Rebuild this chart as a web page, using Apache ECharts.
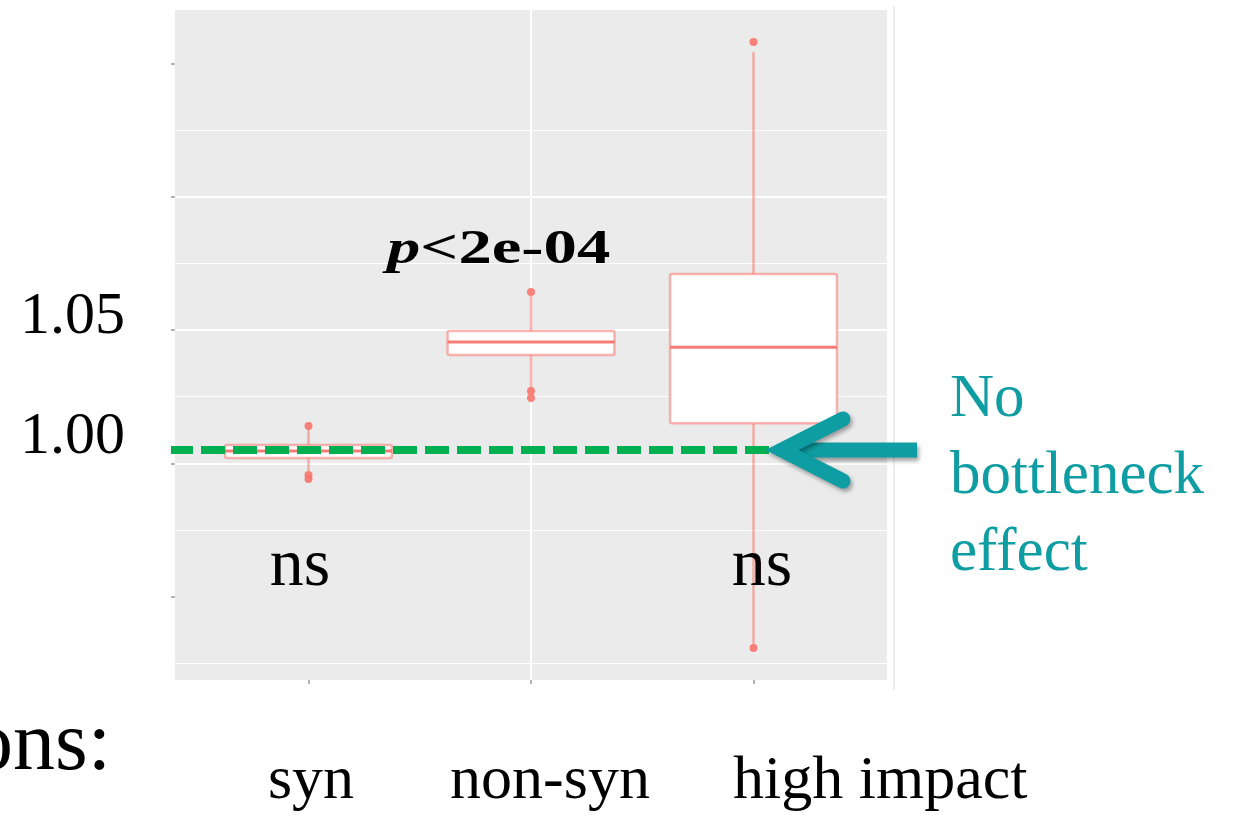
<!DOCTYPE html>
<html>
<head>
<meta charset="utf-8">
<title>Bottleneck ratio by mutation class</title>
<script src="https://cdn.jsdelivr.net/npm/echarts@6/dist/echarts.min.js"></script>
<style>
  html, body { margin: 0; padding: 0; background: #ffffff; }
  #chart { width: 1236px; height: 816px; }
</style>
</head>
<body>
<div id="chart"></div>
<script>
// ---- data -------------------------------------------------------------
const categories   = ['syn', 'non-syn', 'high impact'];
const whiskerLow   = [0.9913, 1.0254, 0.9188];
const quartile1    = [0.9967, 1.0396, 1.0111];
const medians      = [0.9996, 1.0450, 1.0428];
const quartile3    = [1.0021, 1.0496, 1.0733];
const whiskerHigh  = [1.0092, 1.0642, 1.1658];
// [category index, value]
const outliers = [
  [0, 1.0100], [0, 0.9896], [0, 0.9879],
  [1, 1.0658], [1, 1.0246], [1, 1.0217],
  [2, 1.1700], [2, 0.9175]
];
const yTickValues  = [1.00, 1.05];
const refLevel     = 1.00;
const pValueText   = ['p', '<2e-04'];
const groupTests   = ['ns', '', 'ns'];
const noteLines    = ['No', 'bottleneck', 'effect'];
const rowLabel     = 'ons:';

// ---- style ------------------------------------------------------------
const SERIF = "'Liberation Serif', 'DejaVu Serif', serif";
const BOX_COLOR = 'rgba(248,118,109,0.55)';
const MED_COLOR = 'rgba(244,110,102,0.9)';
const TEAL = '#0E9DA2';
const BOX_WIDTH = 0.75;

const chart = echarts.init(document.getElementById('chart'), null, { renderer: 'canvas' });

const boxData = categories.map((c, i) => [
  i + 1, whiskerLow[i], quartile1[i], medians[i], quartile3[i], whiskerHigh[i]
]);
const outlierData = outliers.map(([i, v]) => [i + 1, v]);

function renderBox(params, api) {
  const x = api.value(0);
  const lo = api.coord([x, api.value(1)]);
  const q1 = api.coord([x, api.value(2)]);
  const md = api.coord([x, api.value(3)]);
  const q3 = api.coord([x, api.value(4)]);
  const hi = api.coord([x, api.value(5)]);
  const half = api.size([BOX_WIDTH, 0])[0] / 2;
  const cx = q1[0];
  const whisker = { stroke: BOX_COLOR, lineWidth: 2.5 };
  return {
    type: 'group',
    children: [
      { type: 'line', shape: { x1: cx, y1: hi[1], x2: cx, y2: q3[1] }, style: whisker },
      { type: 'line', shape: { x1: cx, y1: q1[1], x2: cx, y2: lo[1] }, style: whisker },
      {
        type: 'rect',
        shape: { x: cx - half, y: q3[1], width: half * 2, height: q1[1] - q3[1], r: 2 },
        style: { fill: '#ffffff', stroke: BOX_COLOR, lineWidth: 2.5 }
      },
      {
        type: 'line',
        shape: { x1: cx - half, y1: md[1], x2: cx + half, y2: md[1] },
        style: { stroke: MED_COLOR, lineWidth: 3 }
      }
    ]
  };
}

const lineStart = 0.373;
const lineEnd = 3.119;

const option = {
  animation: false,
  backgroundColor: '#ffffff',
  grid: {
    left: 175, right: 349, top: 10, bottom: 136,
    show: true, backgroundColor: '#EBEBEB', borderWidth: 0
  },
  xAxis: {
    type: 'value', min: 0.4, max: 3.6, minInterval: 1, maxInterval: 1,
    axisLine: { show: false },
    axisTick: { show: true, length: 4, customValues: [1, 2, 3],
      lineStyle: { color: '#9a9a9a', width: 1.5 } },
    axisLabel: { show: false },
    splitLine: { show: true, showMinLine: false, showMaxLine: false,
      lineStyle: { color: '#ffffff', width: 2 } }
  },
  yAxis: [
    {
      // value scale used by the boxes and the 1.00 reference line
      type: 'value', min: 0.904167, max: 1.183333,
      minInterval: 0.05, maxInterval: 0.05,
      axisLine: { show: false },
      axisTick: { show: false },
      splitLine: { show: false },
      axisLabel: {
        show: true, margin: 50, verticalAlign: 'bottom', lineHeight: 26,
        fontFamily: SERIF, fontSize: 60, color: '#000000',
        formatter: v => {
          const hit = yTickValues.find(t => Math.abs(t - v) < 1e-6);
          return hit === undefined ? '' : hit.toFixed(2);
        }
      }
    },
    {
      // helper scale carrying the panel's major / minor grid lines
      type: 'value', min: 0.9187, max: 1.1701,
      minInterval: 0.05, maxInterval: 0.05, position: 'left',
      axisLine: { show: false },
      axisLabel: { show: false },
      axisTick: { show: true, length: 4, customValues: [0.95, 1.0, 1.05, 1.1, 1.15],
        lineStyle: { color: '#9a9a9a', width: 1.5 } },
      splitLine: { show: true, showMinLine: false, showMaxLine: false,
        lineStyle: { color: '#ffffff', width: 2 } },
      minorTick: { show: false, splitNumber: 2 },
      minorSplitLine: { show: true, lineStyle: { color: '#ffffff', width: 1.2 } }
    }
  ],
  series: [
    {
      type: 'custom', name: 'box', xAxisIndex: 0, yAxisIndex: 0,
      renderItem: renderBox, data: boxData,
      encode: { x: 0, y: [1, 2, 3, 4, 5] }, z: 2, silent: true
    },
    {
      type: 'scatter', name: 'outliers', xAxisIndex: 0, yAxisIndex: 0,
      data: outlierData, symbolSize: 8,
      itemStyle: { color: '#F8766D', opacity: 0.9 }, z: 3, silent: true
    },
    {
      type: 'line', name: 'reference', xAxisIndex: 0, yAxisIndex: 0,
      data: [[lineStart, refLevel], [lineEnd, refLevel]],
      symbol: 'none', clip: false, z: 4, silent: true,
      lineStyle: { color: '#00B050', width: 8, type: [24, 8] }
    }
  ]
};

chart.setOption(option);

// ---- annotations ------------------------------------------------------
const tip = chart.convertToPixel({ xAxisIndex: 0, yAxisIndex: 0 }, [lineEnd, refLevel]);
const tx = tip[0], ty = tip[1];

const graphics = [];

// faint right edge of the panel image
graphics.push({
  type: 'line', shape: { x1: 894, y1: 6, x2: 894, y2: 690 },
  style: { stroke: '#EDEDED', lineWidth: 2 }, z: 1
});

// p-value over the non-syn group
graphics.push({
  type: 'text', x: 387, y: 251, scaleX: 1.39, originX: 0, originY: 0, z: 10,
  style: {
    text: '{i|' + pValueText[0] + '}{b|' + pValueText[1] + '}',
    fontFamily: SERIF, fontSize: 48, fill: '#000000',
    align: 'left', verticalAlign: 'middle',
    rich: {
      i: { fontFamily: SERIF, fontSize: 48, fontStyle: 'italic', fontWeight: 'bold', fill: '#000' },
      b: { fontFamily: SERIF, fontSize: 48, fontWeight: 'bold', fill: '#000' }
    }
  }
});

// per-group test results
const nsX = [300, 531, 762];
groupTests.forEach((t, i) => {
  if (!t) return;
  graphics.push({
    type: 'text', x: nsX[i], y: 567, z: 10,
    style: { text: t, fontFamily: SERIF, fontSize: 68, fill: '#000000',
      align: 'center', verticalAlign: 'middle' }
  });
});

// arrow pointing at the reference line
const arrowStyle = {
  stroke: TEAL, lineWidth: 15,
  shadowColor: 'rgba(0,0,0,0.35)', shadowBlur: 4, shadowOffsetX: 2, shadowOffsetY: 3
};
graphics.push({
  type: 'line', z: 11,
  shape: { x1: tx + 10, y1: ty, x2: 917, y2: ty },
  style: Object.assign({ lineCap: 'butt' }, arrowStyle)
});
graphics.push({
  type: 'polyline', z: 11,
  shape: { points: [[tx + 63, ty - 31], [tx + 2, ty], [tx + 63, ty + 31]] },
  style: Object.assign({ lineCap: 'round', lineJoin: 'miter', fill: null }, arrowStyle)
});

// note beside the arrow
const noteY = [400, 477, 554];
noteLines.forEach((t, i) => {
  graphics.push({
    type: 'text', x: 950, y: noteY[i], z: 10,
    style: { text: t, fontFamily: SERIF, fontSize: 61, fill: TEAL,
      align: 'left', verticalAlign: 'middle' }
  });
});

// category names under the panel
const catX = [311, 550, 733];
const catAlign = ['center', 'center', 'left'];
categories.forEach((c, i) => {
  graphics.push({
    type: 'text', x: catX[i], y: 782, z: 10,
    style: { text: c, fontFamily: SERIF, fontSize: 62, fill: '#000000',
      align: catAlign[i], verticalAlign: 'middle' }
  });
});

// row caption, running off the left edge
graphics.push({
  type: 'text', x: 111, y: 747, z: 10,
  style: { text: rowLabel, fontFamily: SERIF, fontSize: 84, fill: '#000000',
    align: 'right', verticalAlign: 'middle' }
});

chart.setOption({ graphic: graphics });
</script>
</body>
</html>
